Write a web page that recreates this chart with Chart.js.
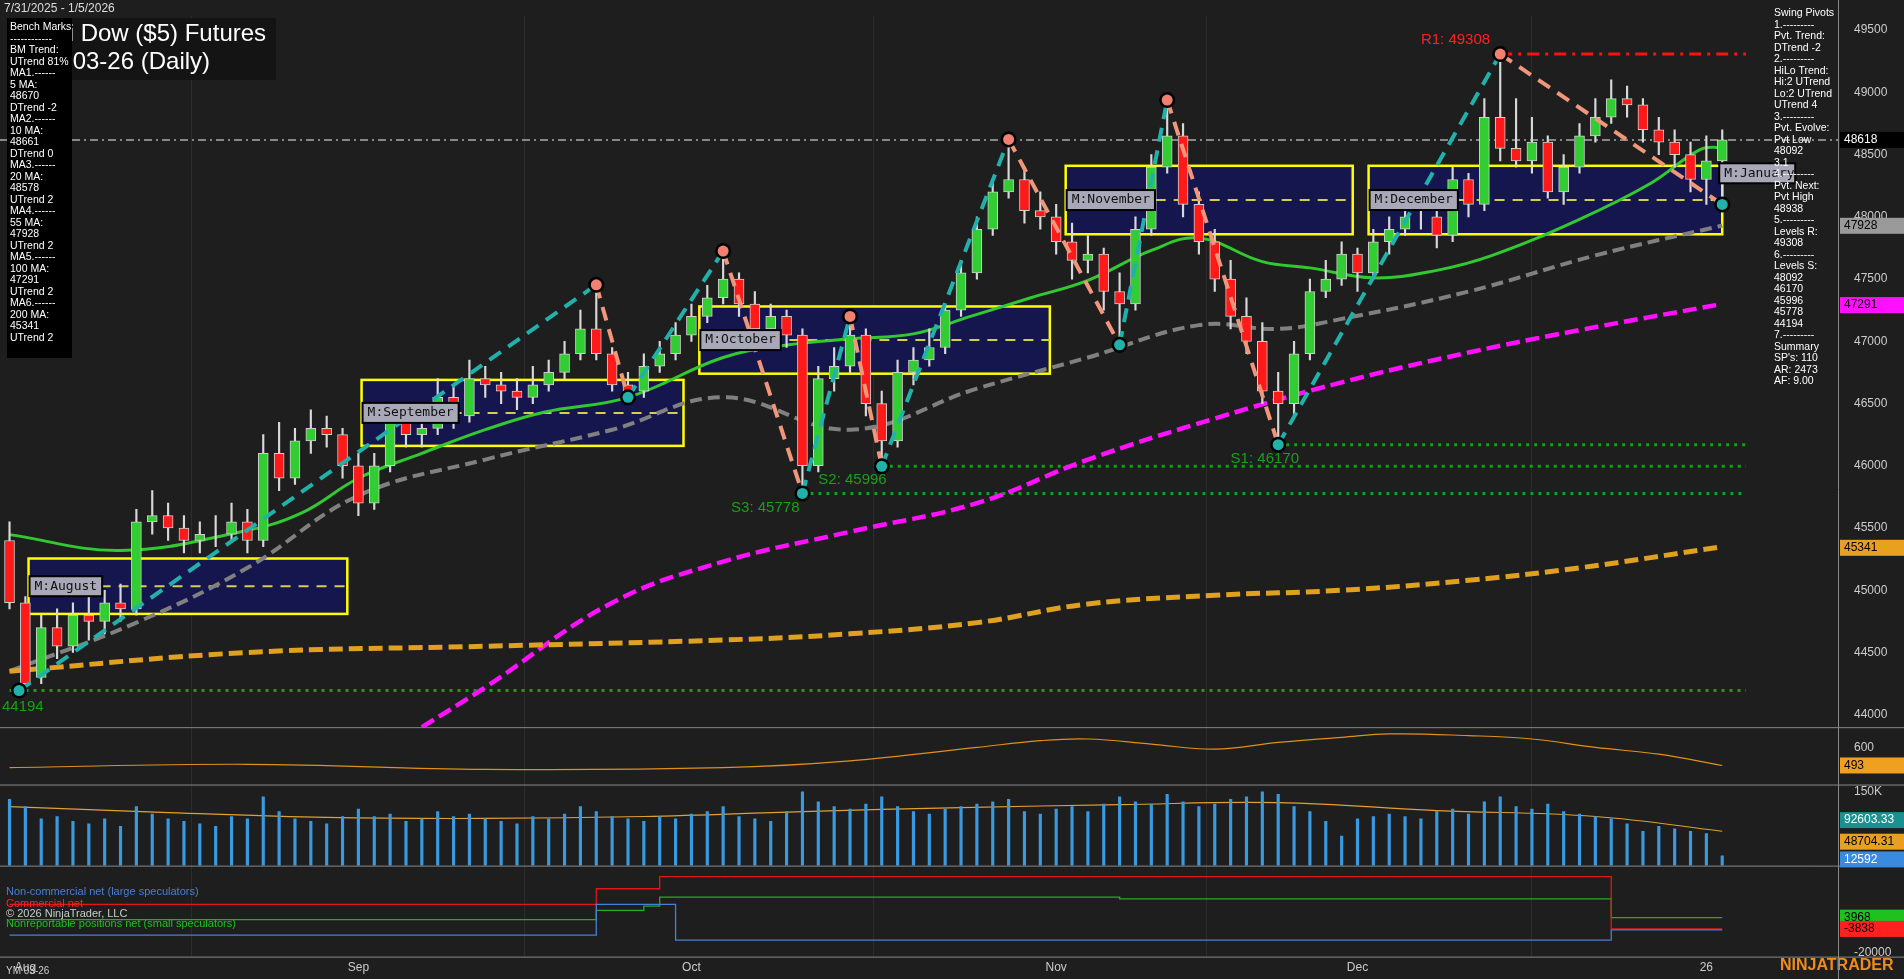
<!DOCTYPE html>
<html><head><meta charset="utf-8">
<script src="https://cdn.jsdelivr.net/npm/chart.js@4.4.1/dist/chart.umd.min.js"></script>
<style>html,body{margin:0;padding:0;background:#1e1e1e;overflow:hidden}#w{width:1904px;height:979px}</style>
</head><body><div id="w"><canvas id="c"></canvas></div>
<script>
const opens=[45400,44900,44300,44700,44550,44800,44750,44900,44850,45550,45600,45500,45400,45450,45450,45550,45400,46100,45900,46200,46300,46250,46000,45700,46000,46350,46250,46300,46550,46400,46700,46650,46600,46550,46650,46750,46900,47100,46900,46650,46600,46800,46900,47050,47200,47350,47500,47300,47100,47200,47050,46000,46700,46800,47050,46500,46200,46750,46850,46950,47250,47550,47900,48200,48300,48050,48000,47800,47650,47700,47400,47300,47900,48400,48650,48100,47800,47500,47200,47000,46600,46500,46900,47400,47500,47700,47550,47800,47900,48000,48000,47850,48300,48100,48800,48550,48450,48600,48200,48400,48650,48800,48950,48900,48700,48600,48500,48300,48450];
const highs=[45550,44950,44800,44850,44900,44950,45000,45050,45650,45800,45700,45600,45550,45600,45700,45650,46250,46350,46300,46450,46400,46300,46100,46100,46450,46500,46400,46700,46650,46850,46800,46750,46700,46800,46850,47000,47250,47454,46950,46750,46900,47000,47150,47300,47450,47725,47550,47400,47300,47250,47100,46800,46950,47200,47100,46600,46850,46950,47100,47300,47650,48000,48300,48622,48400,48200,48100,47950,47850,47750,47550,48000,48500,48938,48750,48200,47900,47650,47350,47150,46750,47000,47500,47650,47800,47750,47900,48000,48150,48200,48100,48400,48350,48950,49308,48950,48800,48650,48500,48750,48950,49100,49050,48950,48800,48700,48600,48650,48700];
const lows=[44850,44194,44250,44450,44500,44600,44650,44750,44800,45450,45400,45300,45300,45350,45400,45300,45350,45800,45850,46100,46150,45900,45600,45650,45950,46150,46150,46250,46300,46350,46550,46500,46450,46500,46600,46700,46850,46850,46600,46500,46550,46750,46850,47000,47150,47300,47200,47000,47050,46950,45778,45950,46600,46750,46400,45996,46150,46650,46800,46900,47200,47500,47850,48150,47950,47900,47700,47500,47550,47250,46972,47250,47850,48350,48000,47700,47400,47100,46900,46500,46170,46400,46850,47350,47450,47400,47500,47700,47850,47900,47750,47800,48000,48050,48450,48400,48350,48150,48100,48350,48600,48750,48800,48600,48500,48400,48200,48100,48092];
const closes=[44900,44250,44700,44550,44800,44750,44900,44850,45550,45600,45500,45400,45450,45450,45550,45400,46100,45900,46200,46300,46250,46000,45700,46000,46350,46250,46300,46550,46400,46700,46650,46600,46550,46650,46750,46900,47100,46900,46650,46600,46800,46900,47050,47200,47350,47500,47300,47100,47200,47050,46000,46700,46800,47050,46500,46200,46750,46850,46950,47250,47550,47900,48200,48300,48050,48000,47800,47650,47700,47400,47300,47900,48400,48650,48100,47800,47500,47200,47000,46600,46500,46900,47400,47500,47700,47550,47800,47900,48000,48000,47850,48300,48100,48800,48550,48450,48600,48200,48400,48650,48800,48950,48900,48700,48600,48500,48300,48450,48618];
const volumes=[135,120,95,100,90,85,95,80,120,105,95,90,85,80,100,95,140,110,95,90,85,100,115,100,105,90,95,110,100,105,95,90,85,100,95,105,120,110,100,95,90,100,95,105,110,120,100,95,90,110,150,130,120,115,125,140,120,110,105,115,120,125,130,135,110,105,115,120,110,125,140,130,125,145,130,120,125,135,140,150,145,120,110,90,60,95,100,105,100,95,110,115,105,130,140,120,115,125,110,105,100,95,85,70,80,75,70,65,20];
const volAvgIdx=[0,10,20,30,40,50,60,70,80,90,100,108];
const volAvg=[120,108,98,96,100,110,118,124,128,112,100,70];
const ma20Idx=[0,7,14.6,18.4,22,26,30,33.7,39,45,49,53,57,60.6,64.4,68,72,75,79,82,86,90,93.5,99,103.5,106.6,108];
const ma20=[45447,45320,45470,45620,45900,46100,46290,46430,46550,46870,46970,47020,47060,47200,47350,47490,47730,47830,47640,47590,47510,47570,47690,47980,48270,48540,48560];
const ma55Idx=[0,8,15,22,30,38,45,53,61,68,75,80,84,92,100,108];
const ma55=[44350,44740,45180,45760,46050,46290,46550,46290,46620,46870,47130,47100,47180,47400,47690,47930];
const ma100Idx=[26,30,38,45,53,61,68,76,84,92,99,108];
const ma100=[43900,44220,44900,45230,45470,45700,46050,46380,46670,46910,47090,47300];
const ma200Idx=[0,15,30,45,53,61,68,76,84,92,99,108];
const ma200=[44350,44500,44550,44600,44650,44740,44890,44960,45000,45080,45180,45350];
const oscIdx=[0,15,30,45,53,61,65,68,72,76,80,84,87,92,96,100,104,108];
const osc=[480,500,470,480,520,600,640,650,620,590,630,660,680,670,650,600,560,493];
const cotIdx=[0,20,36,37,40,41,42,43,70,100,101,102,108];
const cotLarge=[-8100,-8100,-8100,13200,13200,13200,-11650,-11650,-11650,-11650,-4550,-4550,-4550];
const cotComm=[13200,13200,13200,24000,24000,32400,32400,32400,32400,32400,-3838,-3838,-3838];
const cotSmall=[2550,2550,2550,9000,12000,18200,18200,18200,17000,17000,3968,3968,3968];
const monthTicks=[1,22,43,66,85,107];
const monthLabels=['Aug','Sep','Oct','Nov','Dec','26'];
const monthBoxStart=[1.2,22.2,43.5,66.6,85.7];
const monthBoxEnd=[21.3,42.5,65.6,84.7,108];
const monthBoxHi=[45255,46690,47280,48410,48410];
const monthBoxLo=[44810,46160,46740,47860,47860];
const monthBoxName=['M:August','M:September','M:October','M:November','M:December'];
const pivotIdx=[0.6,37,39,45,50,53,55,63,70,73,80,94,108];
const pivotVal=[44194,47454,46550,47725,45778,47200,45996,48622,46972,48938,46170,49308,48100];
const supportVal=[46170,45996,45778,44194];
const supportFrom=[80,55,50,0];
const supportLabel=['S1: 46170','S2: 45996','S3: 45778','44194'];
const leftInfo=['Bench Marks','------------','BM Trend:','UTrend 81%','MA1.------','5 MA:','48670','DTrend -2','MA2.------','10 MA:','48661','DTrend 0','MA3.------','20 MA:','48578','UTrend 2','MA4.------','55 MA:','47928','UTrend 2','MA5.------','100 MA:','47291','UTrend 2','MA6.------','200 MA:','45341','UTrend 2'];
const rightInfo=['Swing Pivots','1.---------','Pvt. Trend:','DTrend -2','2.---------','HiLo Trend:','Hi:2 UTrend','Lo:2 UTrend','UTrend 4','3.---------','Pvt. Evolve:','Pvt Low','48092','3.1','4.---------','Pvt. Next:','Pvt High','48938','5.---------','Levels R:','49308','6.---------','Levels S:','48092','46170','45996','45778','44194','7.---------','Summary','SP\'s: 110','AR: 2473','AF: 9.00'];
const idx=closes.map((_,i)=>i);
const pts=(xs,ys)=>xs.map((x,i)=>({x,y:ys[i]}));

const F='Arial, "Liberation Sans", sans-serif';
const AXW=66;
const bg={id:'bg',beforeDraw(c){const g=c.ctx;g.save();g.fillStyle='#1e1e1e';g.fillRect(0,0,c.width,c.height);g.restore();},
beforeDatasetsDraw(c){const g=c.ctx,x=c.scales.x,y=c.scales.y;g.save();
 for(let i=0;i<monthBoxStart.length;i++){const x0=x.getPixelForValue(monthBoxStart[i]),x1=x.getPixelForValue(monthBoxEnd[i]),y0=y.getPixelForValue(monthBoxHi[i]),y1=y.getPixelForValue(monthBoxLo[i]);
  g.fillStyle='#16164e';g.fillRect(x0,y0,x1-x0,y1-y0);g.strokeStyle='#ffff00';g.lineWidth=2.5;g.strokeRect(x0,y0,x1-x0,y1-y0);
  const ym=(y0+y1)/2;g.setLineDash([10,8]);g.strokeStyle='#d4d040';g.lineWidth=2;g.beginPath();g.moveTo(x0,ym);g.lineTo(x1,ym);g.stroke();g.setLineDash([]);}
 g.lineWidth=3;g.setLineDash([3,5]);g.strokeStyle='#14a014';
 supportVal.forEach((v,i)=>{const yy=y.getPixelForValue(v);g.beginPath();g.moveTo(x.getPixelForValue(supportFrom[i]),yy);g.lineTo(x.getPixelForValue(109.5),yy);g.stroke();});
 g.strokeStyle='#ff1010';g.setLineDash([12,6,3,6]);g.lineWidth=3;let yy=y.getPixelForValue(49308);g.beginPath();g.moveTo(x.getPixelForValue(94),yy);g.lineTo(x.getPixelForValue(109.5),yy);g.stroke();
 g.strokeStyle='#aaaaaa';g.lineWidth=1.5;g.setLineDash([8,4,2,4]);yy=y.getPixelForValue(48618);g.beginPath();g.moveTo(x.left,yy);g.lineTo(x.right,yy);g.stroke();
 g.restore();},
afterDatasetsDraw(c){const g=c.ctx,x=c.scales.x,y=c.scales.y;g.save();
 g.lineWidth=4;g.setLineDash([14,9]);
 for(let i=0;i<pivotIdx.length-1;i++){const a=[x.getPixelForValue(pivotIdx[i]),y.getPixelForValue(pivotVal[i])],b=[x.getPixelForValue(pivotIdx[i+1]),y.getPixelForValue(pivotVal[i+1])];
  g.strokeStyle=pivotVal[i+1]>pivotVal[i]?'#20b2aa':'#f0967a';g.beginPath();g.moveTo(a[0],a[1]);g.lineTo(b[0],b[1]);g.stroke();}
 g.setLineDash([]);
 pivotIdx.forEach((p,i)=>{const px=x.getPixelForValue(p),py=y.getPixelForValue(pivotVal[i]);const hi=i<pivotIdx.length-1?(i%2===1):false;
  g.beginPath();g.arc(px,py,8,0,7);g.fillStyle='#000';g.fill();g.beginPath();g.arc(px,py,5.5,0,7);g.fillStyle=hi?'#f08070':'#20b2aa';g.fill();});
 g.font='13px "DejaVu Sans Mono", monospace';g.textBaseline='middle';
 monthBoxName.forEach((n,i)=>{const px=x.getPixelForValue(monthBoxStart[i])+2,py=y.getPixelForValue((monthBoxHi[i]+monthBoxLo[i])/2);const w=g.measureText(n).width+8;
  g.fillStyle='#000';g.fillRect(px-2,py-11,w+4,22);g.fillStyle='#a8a8b8';g.fillRect(px,py-9,w,18);g.fillStyle='#111';g.fillText(n,px+4,py);});
 const jx=x.getPixelForValue(108)-4,jy=y.getPixelForValue(48350);
 g.fillStyle='#000';g.fillRect(jx,jy-11,78,22);g.fillStyle='#a8a8b8';g.fillRect(jx+2,jy-9,74,18);g.fillStyle='#111';g.fillText('M:January',jx+6,jy);
 g.font='15px '+F;g.fillStyle='#ff2020';g.fillText('R1: 49308',x.getPixelForValue(89),y.getPixelForValue(49420));
 g.fillStyle='#18a018';supportVal.forEach((v,i)=>{const px=[x.getPixelForValue(77),x.getPixelForValue(51),x.getPixelForValue(45.5),2][i];g.fillText(supportLabel[i],px,y.getPixelForValue(v)+(i==3?16:14));});
 g.restore();
 g.save();g.fillStyle='#141414';g.fillRect(30,18,246,62);g.fillStyle='#fff';g.font='24px '+F;g.textBaseline='top';g.fillText('Mini Dow ($5) Futures',30,22);g.fillText('YM 03-26 (Daily)',30,50);
 g.fillStyle='#000';g.fillRect(7,18,65,340);g.fillStyle='#fff';g.font='10.5px '+F;leftInfo.forEach((t,i)=>g.fillText(t,10,22+i*11.5));
 g.fillStyle='#ddd';g.font='12px '+F;g.fillText('7/31/2025 - 1/5/2026',4,3);
 g.fillStyle='#fff';g.font='10.5px '+F;rightInfo.forEach((t,i)=>g.fillText(t,1774,8+i*11.5));
 g.font='10px '+F;g.fillStyle='#ccc';g.fillText('YM 03-26',6,966);
 g.font='bold 16px '+F;g.fillStyle='#f08c1e';g.fillText('NINJATRADER',1780,958);
 g.font='11px '+F;g.fillStyle='#4a7fd8';g.fillText('Non-commercial net (large speculators)',6,886);g.fillStyle='#ff2020';g.fillText('Commercial net',6,898);g.fillStyle='#ccc';g.fillText('© 2026 NinjaTrader, LLC',6,908);g.fillStyle='#20c020';g.fillText('Nonreportable positions net (small speculators)',6,918);
 g.strokeStyle='#888';g.lineWidth=1;['y','yo','yv','yc'].forEach(k=>{const s=c.scales[k];g.beginPath();g.moveTo(0,s.bottom+0.5);g.lineTo(1904,s.bottom+0.5);g.stroke();});
 g.beginPath();g.moveTo(x.right+0.5,0);g.lineTo(x.right+0.5,979);g.stroke();
 const tag=(sc,v,txt,bgc,fg)=>{const py=c.scales[sc].getPixelForValue(v);g.fillStyle=bgc;g.fillRect(x.right+2,py-8,AXW-2,16);g.fillStyle=fg;g.font='12px '+F;g.textBaseline='middle';g.fillText(txt,x.right+6,py);};
 tag('y',48618,'48618','#000','#fff');tag('y',47928,'47928','#9a9a9a','#000');tag('y',47291,'47291','#ff10ff','#000');tag('y',45341,'45341','#e8a020','#000');
 tag('yo',493,'493','#f0a020','#000');tag('yv',92.6,'92603.33','#1a9090','#fff');tag('yv',48.7,'48704.31','#e8a020','#000');tag('yv',12.6,'12592','#3a8ae0','#fff');
 tag('yc',3968,'3968','#20c020','#000');tag('yc',-3838,'-3838','#ff2020','#000');
 g.restore();}};

const cColor=closes.map((c,i)=>c>=opens[i]?'#32cd32':'#ff1a1a');
const yax=(w,mn,mx,tk,cb)=>({position:'right',stack:'s',stackWeight:w,min:mn,max:mx,grid:{display:false},border:{display:false},afterFit(s){s.width=AXW;},afterBuildTicks(s){s.ticks=tk.map(v=>({value:v}));},ticks:{color:'#ccc',font:{size:12,family:F},padding:8,callback:cb||(v=>v)}});
new Chart(document.getElementById('c'),{
 data:{datasets:[
  {type:'line',data:pts(ma200Idx,ma200),borderColor:'#e0a020',borderWidth:5,borderDash:[14,6],pointRadius:0,tension:0.4,yAxisID:'y',order:5},
  {type:'line',data:pts(ma100Idx,ma100),borderColor:'#ff10ff',borderWidth:4.5,borderDash:[14,6],pointRadius:0,tension:0.4,yAxisID:'y',order:5},
  {type:'line',data:pts(ma55Idx,ma55),borderColor:'#808080',borderWidth:4,borderDash:[12,6],pointRadius:0,tension:0.4,yAxisID:'y',order:5},
  {type:'line',data:pts(ma20Idx,ma20),borderColor:'#32c832',borderWidth:3,pointRadius:0,tension:0.4,yAxisID:'y',order:5},
  {type:'bar',data:idx.map(i=>({x:i,y:[lows[i],highs[i]]})),backgroundColor:'#d8d8d8',barThickness:1.5,grouped:false,yAxisID:'y',order:2},
  {type:'bar',data:idx.map(i=>({x:i,y:[opens[i],closes[i]]})),backgroundColor:cColor,borderColor:'#cfcfcf',borderWidth:1,borderSkipped:false,barThickness:10,grouped:false,yAxisID:'y',order:1},
  {type:'line',data:pts(oscIdx,osc),borderColor:'#e0901a',borderWidth:1.2,pointRadius:0,tension:0.4,yAxisID:'yo'},
  {type:'bar',data:idx.map(i=>({x:i,y:volumes[i]})),backgroundColor:'#3a9ae0',barThickness:2.5,grouped:false,yAxisID:'yv'},
  {type:'line',data:pts(volAvgIdx,volAvg),borderColor:'#e0a030',borderWidth:1.2,pointRadius:0,tension:0.4,yAxisID:'yv'},
  {type:'line',data:pts(cotIdx,cotLarge),borderColor:'#4a7fd8',borderWidth:1.3,pointRadius:0,stepped:true,yAxisID:'yc'},
  {type:'line',data:pts(cotIdx,cotComm),borderColor:'#e01818',borderWidth:1.3,pointRadius:0,stepped:true,yAxisID:'yc'},
  {type:'line',data:pts(cotIdx,cotSmall),borderColor:'#20b020',borderWidth:1.3,pointRadius:0,stepped:true,yAxisID:'yc'}
 ]},
 options:{responsive:true,maintainAspectRatio:false,animation:false,layout:{padding:0},
  plugins:{legend:{display:false},tooltip:{enabled:false}},
  scales:{
   x:{type:'linear',min:-0.6,max:115.3,offset:false,grid:{display:true,color:'#2c2c2c',drawTicks:false},border:{display:false},
     afterBuildTicks(s){s.ticks=monthTicks.map(v=>({value:v}));},ticks:{color:'#ccc',font:{size:12,family:F},autoSkip:false,maxRotation:0,padding:4,callback:(v)=>monthLabels[monthTicks.indexOf(v)]}},
   y:yax(720,43900,49620,[44000,44500,45000,45500,46000,46500,47000,47500,48000,48500,49000,49500]),
   yo:yax(58,380,720,[600]),
   yv:yax(82,0,165,[150],v=>v+'K'),
   yc:yax(92,-23000,40000,[-20000])
  }},
 plugins:[bg]
});
</script></body></html>
